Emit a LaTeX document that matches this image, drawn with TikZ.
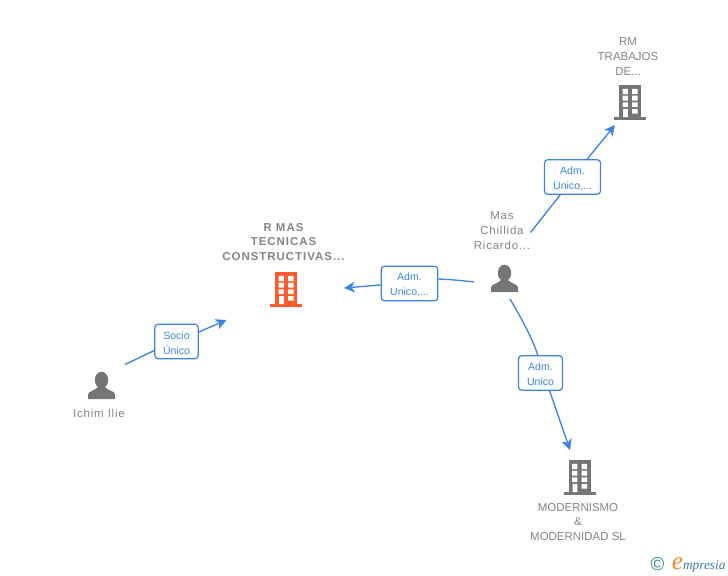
\documentclass[tikz,border=0pt]{standalone}
\usepackage{fontspec}
\setmainfont{Liberation Sans}
\newfontfamily\logofont{Liberation Serif}
\newfontfamily\spacedfont[LetterSpace=7]{Liberation Sans}
\newfontfamily\spacedbold[LetterSpace=8.5]{Liberation Sans Bold}
\usetikzlibrary{arrows.meta}
\definecolor{edgeblue}{HTML}{3F83E0}
\definecolor{labelgrey}{HTML}{858585}
\definecolor{icongrey}{HTML}{757575}
\definecolor{iconorange}{HTML}{FF5A2B}
\definecolor{logoteal}{HTML}{3A7F9C}
\definecolor{logoorange}{HTML}{F08A1D}
\newcommand{\boxstrut}{\rule{0pt}{8.2pt}}
\tikzset{
  x=0.75pt,y=-0.75pt,
  link/.style={draw=edgeblue,line width=1pt},
  linkarrow/.style={link,-{Stealth[length=8pt,width=8pt,inset=2.2pt]}},
  rolebox/.style={draw=edgeblue,line width=0.9pt,fill=white,rounded corners=2.5pt,inner sep=0pt,
    text=edgeblue,font=\fontsize{7.9}{11.2}\selectfont,align=center,anchor=center},
  caption/.style={text=labelgrey,font=\fontsize{8.6}{11.2}\selectfont,align=center,inner sep=0pt},
  captionspaced/.style={caption,font=\spacedfont\fontsize{8.6}{11.2}\selectfont},
  captionbold/.style={caption,font=\spacedbold\fontsize{8.6}{11.2}\selectfont},
  pics/building/.style={code={
    \fill[#1] (-11,0) rectangle (11,32);
    \fill[#1] (-16,31.5) rectangle (16,34.5);
    \fill[white] (-7.5,3.8) rectangle (-2.2,9.2) (2.2,3.8) rectangle (7.5,9.2)
      (-7.5,10.7) rectangle (-2.2,15.7) (2.2,10.7) rectangle (7.5,15.7)
      (-7.5,17.4) rectangle (-2.2,22.2) (2.2,17.4) rectangle (7.5,22.2)
      (-7,24) rectangle (-2.2,32) (2.2,24) rectangle (7.5,28.7);
  }},
  pics/person/.style={code={
    \fill[icongrey] (0,0) ellipse (6.7 and 8.3);
    \fill[icongrey] (-13.5,19) -- (-13.5,14.5) .. controls (-13.5,11) and (-6,10.5) .. (-3.5,7)
      -- (3.5,7) .. controls (6,10.5) and (13.5,11) .. (13.5,14.5) -- (13.5,19) -- cycle;
  }}
}
\begin{document}
\begin{tikzpicture}
\useasboundingbox (0,0) rectangle (728,575);
\fill[white] (0,0) rectangle (728,575);

% icons
\pic at (286,272) {building=iconorange};
\pic at (630,85) {building=icongrey};
\pic at (579.5,460) {building=icongrey};
\pic at (101.5,380) {person};
\pic at (504.5,273) {person};

% captions
\node[captionbold] (main) at (283.5,242) {R MAS\\TECNICAS\\CONSTRUCTIVAS...};
\node[caption] (rm) at (628,56.5) {RM\\TRABAJOS\\DE...};
\node[captionspaced] (mas) at (502,230.5) {Mas\\Chillida\\Ricardo...};
\node[captionspaced] (ichim) at (99,413) {Ichim Ilie};
\node[caption] (mod) at (578,522) {MODERNISMO\\\&\\MODERNIDAD SL};

% role boxes
\node[rolebox,minimum width=32.5pt,minimum height=26pt] (socio) at (176.5,341.5) {\boxstrut Socio\\Único};
\node[rolebox,minimum width=42.5pt,minimum height=26pt] (admA) at (409.5,283.5) {\boxstrut Adm.\\Unico,...};
\node[rolebox,minimum width=42pt,minimum height=26pt] (admB) at (572.5,177) {\boxstrut Adm.\\Unico,...};
\node[rolebox,minimum width=33pt,minimum height=26pt] (admC) at (540.5,373) {\boxstrut Adm.\\Unico};

% free ends
\coordinate (ichimOut) at (125,364.5);
\coordinate (mainIn) at (226.5,320);
\coordinate (masOutW) at (474,282);
\coordinate (mainInE) at (344,288);
\coordinate (masOutN) at (530.5,232.5);
\coordinate (rmIn) at (615,125);
\coordinate (masOutS) at (510,299);
\coordinate (modIn) at (570,450);

% connectors
\draw[link] (ichimOut) -- (socio.west |- 0,350.5);
\draw[linkarrow] (socio.east |- 0,332) -- (mainIn);
\draw[link] (masOutW) .. controls (462,280.5) and (450,279.5) .. (admA.east |- 0,279);
\draw[linkarrow] (admA.west |- 0,285) -- (mainInE);
\draw[link] (masOutN) -- (560.5,194.5);
\draw[linkarrow] (586.5,160) -- (rmIn);
\draw[link] (masOutS) .. controls (520,316) and (532,337) .. (538,356);
\draw[linkarrow] (549.5,390.5) -- (modIn);

% logo
\node[text=logoteal,inner sep=0pt,font=\fontsize{14}{14}\selectfont] (copy) at (657.5,564) {\textcopyright};
\node[inner sep=0pt,anchor=base west,font=\logofont\itshape] (logo) at (671.5,569.5)
  {\textcolor{logoorange}{\fontsize{19}{19}\selectfont e}\textcolor{logoteal}{\fontsize{10}{11}\selectfont mpresia}};
\end{tikzpicture}
\end{document}
